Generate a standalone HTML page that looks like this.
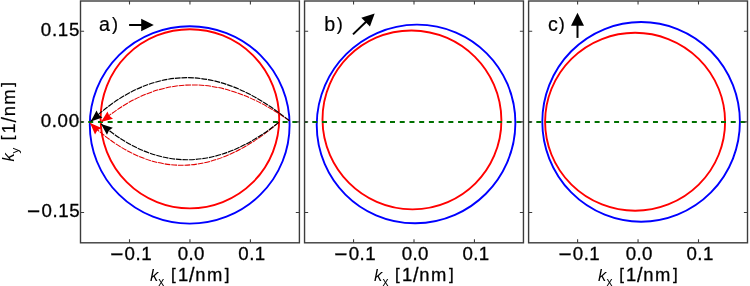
<!DOCTYPE html>
<html><head><meta charset="utf-8"><title>Fermi contours</title>
<style>html,body{margin:0;padding:0;background:#fff;width:750px;height:286px;overflow:hidden}svg{display:block;will-change:transform}text{font-family:"Liberation Sans",sans-serif}</style>
</head><body>
<svg width="750" height="286" viewBox="0 0 750 286">
<defs>
<clipPath id="c0"><rect x="80.50" y="1.00" width="218.90" height="241.80"/></clipPath>
<clipPath id="c1"><rect x="304.55" y="1.00" width="218.90" height="241.80"/></clipPath>
<clipPath id="c2"><rect x="528.60" y="1.00" width="218.90" height="241.80"/></clipPath>
</defs>
<rect x="0" y="0" width="750" height="286" fill="#fff"/>
<g clip-path="url(#c0)">
<ellipse cx="189.70" cy="124.90" rx="99.90" ry="98.70" fill="none" stroke="#0000ff" stroke-width="1.9"/>
<ellipse cx="189.90" cy="118.80" rx="89.30" ry="89.60" fill="none" stroke="#ff0000" stroke-width="1.9"/>
<line x1="78.50" y1="122.0" x2="304.40" y2="122.0" stroke="#007000" stroke-width="2" stroke-dasharray="5 4.72"/>
<path d="M289.40,120.80 Q188.35,48.44 101.00,122.00" fill="none" stroke="#e00000" stroke-width="1.05" stroke-dasharray="5.8 0.85"/>
<path d="M278.80,122.40 Q179.23,207.72 90.10,123.10" fill="none" stroke="#e00000" stroke-width="1.05" stroke-dasharray="5.8 0.85"/>
<path d="M289.40,120.80 Q183.20,34.26 90.70,121.40" fill="none" stroke="#000" stroke-width="1.15" stroke-dasharray="5.8 0.85"/>
<path d="M278.80,122.40 Q185.97,196.37 101.00,123.90" fill="none" stroke="#000" stroke-width="1.15" stroke-dasharray="5.8 0.85"/>
<path d="M101.00,122.00 L107.48,111.44 L109.26,115.85 L112.97,118.82 Z" fill="#ff0000"/>
<path d="M90.10,123.10 L101.52,127.90 L97.43,130.34 L95.05,134.45 Z" fill="#ff0000"/>
<path d="M90.70,121.40 L96.54,110.48 L98.58,114.77 L102.46,117.51 Z" fill="#000"/>
<path d="M101.00,123.90 L112.81,127.63 L108.97,130.43 L106.98,134.75 Z" fill="#000"/>
</g>
<g clip-path="url(#c1)">
<ellipse cx="416.05" cy="123.95" rx="98.75" ry="99.90" transform="rotate(45 416.05 123.95)" fill="none" stroke="#0000ff" stroke-width="1.9"/>
<ellipse cx="411.95" cy="119.90" rx="89.80" ry="89.10" transform="rotate(45 411.95 119.90)" fill="none" stroke="#ff0000" stroke-width="1.9"/>
<line x1="302.55" y1="122.0" x2="528.45" y2="122.0" stroke="#007000" stroke-width="2" stroke-dasharray="5 4.72"/>
</g>
<g clip-path="url(#c2)">
<ellipse cx="641.10" cy="121.85" rx="98.80" ry="99.85" fill="none" stroke="#0000ff" stroke-width="1.9"/>
<ellipse cx="635.10" cy="121.75" rx="90.00" ry="88.95" fill="none" stroke="#ff0000" stroke-width="1.9"/>
<line x1="526.60" y1="122.0" x2="752.50" y2="122.0" stroke="#007000" stroke-width="2" stroke-dasharray="5 4.72"/>
</g>
<rect x="80.50" y="1.00" width="218.90" height="241.80" fill="none" stroke="#3c3c3c" stroke-width="1.4"/>
<path d="M129.50,242.80v-3.6M129.50,1.00v3.6M189.95,242.80v-3.6M189.95,1.00v3.6M250.40,242.80v-3.6M250.40,1.00v3.6M80.50,212.57h3.6M299.40,212.57h-3.6M80.50,121.90h3.6M299.40,121.90h-3.6M80.50,31.23h3.6M299.40,31.23h-3.6" stroke="#3c3c3c" stroke-width="1.1" fill="none"/>
<rect x="304.55" y="1.00" width="218.90" height="241.80" fill="none" stroke="#3c3c3c" stroke-width="1.4"/>
<path d="M353.55,242.80v-3.6M353.55,1.00v3.6M414.00,242.80v-3.6M414.00,1.00v3.6M474.45,242.80v-3.6M474.45,1.00v3.6M304.55,212.57h3.6M523.45,212.57h-3.6M304.55,121.90h3.6M523.45,121.90h-3.6M304.55,31.23h3.6M523.45,31.23h-3.6" stroke="#3c3c3c" stroke-width="1.1" fill="none"/>
<rect x="528.60" y="1.00" width="218.90" height="241.80" fill="none" stroke="#3c3c3c" stroke-width="1.4"/>
<path d="M577.60,242.80v-3.6M577.60,1.00v3.6M638.05,242.80v-3.6M638.05,1.00v3.6M698.50,242.80v-3.6M698.50,1.00v3.6M528.60,212.57h3.6M747.50,212.57h-3.6M528.60,121.90h3.6M747.50,121.90h-3.6M528.60,31.23h3.6M747.50,31.23h-3.6" stroke="#3c3c3c" stroke-width="1.1" fill="none"/>
<text font-size="18.7" stroke="#000" stroke-width="0.3"><tspan x="40.87" y="36.20">0</tspan><tspan x="51.94" y="36.20">.</tspan><tspan x="57.71" y="36.20">1</tspan><tspan x="69.03" y="36.20">5</tspan></text>
<text font-size="18.7" stroke="#000" stroke-width="0.3"><tspan x="40.83" y="126.90">0</tspan><tspan x="51.81" y="126.90">.</tspan><tspan x="57.59" y="126.90">0</tspan><tspan x="68.77" y="126.90">0</tspan></text>
<text font-size="18.7" stroke="#000" stroke-width="0.3"><tspan x="27.08" y="219.32" font-size="22.66">−</tspan><tspan x="41.47" y="217.30">0</tspan><tspan x="52.45" y="217.30">.</tspan><tspan x="58.15" y="217.30">1</tspan><tspan x="69.37" y="217.30">5</tspan></text>
<text font-size="18.7" stroke="#000" stroke-width="0.3"><tspan x="110.29" y="262.02" font-size="22.59">−</tspan><tspan x="124.61" y="260.00">0</tspan><tspan x="135.57" y="260.00">.</tspan><tspan x="141.24" y="260.00">1</tspan></text>
<text font-size="18.7" stroke="#000" stroke-width="0.3"><tspan x="177.77" y="260.00">0</tspan><tspan x="188.45" y="260.00">.</tspan><tspan x="193.93" y="260.00">0</tspan></text>
<text font-size="18.7" stroke="#000" stroke-width="0.3"><tspan x="238.36" y="260.00">0</tspan><tspan x="249.22" y="260.00">.</tspan><tspan x="254.79" y="260.00">1</tspan></text>
<text font-size="18.7" stroke="#000" stroke-width="0.3"><tspan x="334.34" y="262.02" font-size="22.59">−</tspan><tspan x="348.66" y="260.00">0</tspan><tspan x="359.62" y="260.00">.</tspan><tspan x="365.29" y="260.00">1</tspan></text>
<text font-size="18.7" stroke="#000" stroke-width="0.3"><tspan x="401.82" y="260.00">0</tspan><tspan x="412.50" y="260.00">.</tspan><tspan x="417.98" y="260.00">0</tspan></text>
<text font-size="18.7" stroke="#000" stroke-width="0.3"><tspan x="462.41" y="260.00">0</tspan><tspan x="473.27" y="260.00">.</tspan><tspan x="478.84" y="260.00">1</tspan></text>
<text font-size="18.7" stroke="#000" stroke-width="0.3"><tspan x="558.39" y="262.02" font-size="22.59">−</tspan><tspan x="572.71" y="260.00">0</tspan><tspan x="583.67" y="260.00">.</tspan><tspan x="589.34" y="260.00">1</tspan></text>
<text font-size="18.7" stroke="#000" stroke-width="0.3"><tspan x="625.87" y="260.00">0</tspan><tspan x="636.55" y="260.00">.</tspan><tspan x="642.03" y="260.00">0</tspan></text>
<text font-size="18.7" stroke="#000" stroke-width="0.3"><tspan x="686.46" y="260.00">0</tspan><tspan x="697.32" y="260.00">.</tspan><tspan x="702.89" y="260.00">1</tspan></text>
<text x="150.01" y="280.80" font-size="16.6" font-family='"Liberation Serif", serif' font-style="italic">k</text>
<text x="158.37" y="285.90" font-size="12.0" font-family='"Liberation Serif", serif'>x</text>
<text font-size="18.4" stroke="#000" stroke-width="0.3"><tspan x="171.04" y="279.52" font-size="16.91">[</tspan><tspan x="177.89" y="280.70">1</tspan><tspan x="188.96" y="282.15" font-size="19.79">/</tspan><tspan x="195.21" y="280.70">n</tspan><tspan x="206.89" y="280.70">m</tspan><tspan x="224.86" y="279.52" font-size="16.91">]</tspan></text>
<text x="374.06" y="280.80" font-size="16.6" font-family='"Liberation Serif", serif' font-style="italic">k</text>
<text x="382.42" y="285.90" font-size="12.0" font-family='"Liberation Serif", serif'>x</text>
<text font-size="18.4" stroke="#000" stroke-width="0.3"><tspan x="395.09" y="279.52" font-size="16.91">[</tspan><tspan x="401.94" y="280.70">1</tspan><tspan x="413.01" y="282.15" font-size="19.79">/</tspan><tspan x="419.26" y="280.70">n</tspan><tspan x="430.94" y="280.70">m</tspan><tspan x="448.91" y="279.52" font-size="16.91">]</tspan></text>
<text x="598.11" y="280.80" font-size="16.6" font-family='"Liberation Serif", serif' font-style="italic">k</text>
<text x="606.47" y="285.90" font-size="12.0" font-family='"Liberation Serif", serif'>x</text>
<text font-size="18.4" stroke="#000" stroke-width="0.3"><tspan x="619.14" y="279.52" font-size="16.91">[</tspan><tspan x="625.99" y="280.70">1</tspan><tspan x="637.06" y="282.15" font-size="19.79">/</tspan><tspan x="643.31" y="280.70">n</tspan><tspan x="654.99" y="280.70">m</tspan><tspan x="672.96" y="279.52" font-size="16.91">]</tspan></text>
<g transform="rotate(-90)">
<text x="-161.54" y="14.00" font-size="16.6" font-family='"Liberation Serif", serif' font-style="italic">k</text>
<text x="-153.60" y="19.00" font-size="11.6" font-family='"Liberation Serif", serif'>y</text>
<text font-size="18.4" stroke="#000" stroke-width="0.2"><tspan x="-140.25" y="13.43" font-size="16.79">[</tspan><tspan x="-133.49" y="14.60">1</tspan><tspan x="-122.46" y="16.04" font-size="19.65">/</tspan><tspan x="-116.29" y="14.60">n</tspan><tspan x="-104.71" y="14.60">m</tspan><tspan x="-86.82" y="13.43" font-size="16.79">]</tspan></text>
</g>
<text font-size="19.7" stroke="#000" stroke-width="0.2"><tspan x="98.97" y="31.00">a</tspan><tspan x="112.08" y="29.76" font-size="18.10">)</tspan></text>
<text font-size="19.7" stroke="#000" stroke-width="0.2"><tspan x="324.14" y="31.20">b</tspan><tspan x="336.67" y="29.93" font-size="18.10">)</tspan></text>
<text font-size="19.7" stroke="#000" stroke-width="0.2"><tspan x="547.93" y="31.20">c</tspan><tspan x="558.82" y="30.35" font-size="18.10">)</tspan></text>
<line x1="129.10" y1="25.00" x2="142.20" y2="25.00" stroke="#000" stroke-width="2.0"/><path d="M153.80,25.00 L141.20,31.20 L141.20,18.80 Z" fill="#000"/>
<line x1="353.00" y1="34.40" x2="366.36" y2="21.47" stroke="#000" stroke-width="2.0"/><path d="M374.70,13.40 L369.96,26.62 L361.33,17.71 Z" fill="#000"/>
<line x1="577.50" y1="37.90" x2="577.50" y2="24.70" stroke="#000" stroke-width="2.0"/><path d="M577.50,12.70 L584.00,25.70 L571.00,25.70 Z" fill="#000"/>
</svg>
</body></html>
